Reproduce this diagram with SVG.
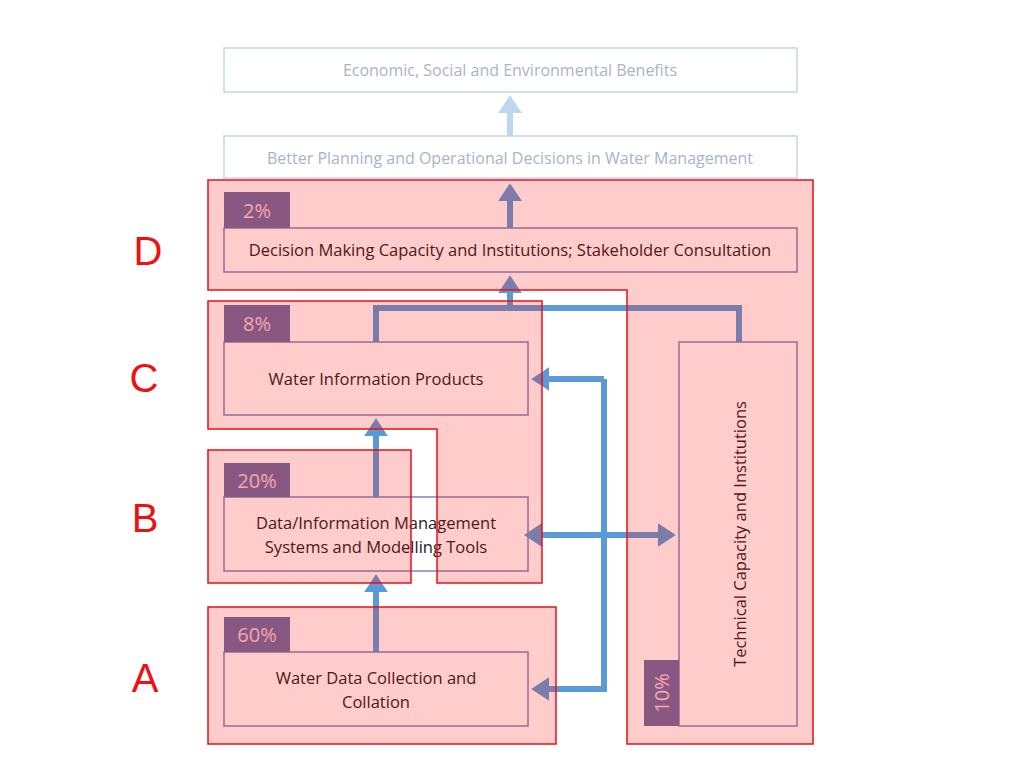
<svg xmlns="http://www.w3.org/2000/svg" width="1024" height="768" viewBox="0 0 1024 768">
<defs>
<marker id="ah" markerWidth="4" markerHeight="4" refX="2.2" refY="2" orient="auto" markerUnits="strokeWidth"><path d="M0,0 L3,2 L0,4 Z" fill="#5b9bd5"/></marker>
<marker id="ahs" markerWidth="4" markerHeight="4" refX="1" refY="2" orient="auto-start-reverse" markerUnits="strokeWidth"><path d="M0,0 L3,2 L0,4 Z" fill="#5b9bd5"/></marker>
<marker id="ahl" markerWidth="4" markerHeight="4" refX="2.2" refY="2" orient="auto" markerUnits="strokeWidth"><path d="M0,0 L3,2 L0,4 Z" fill="#bdd7ee"/></marker>
</defs>
<style>
.box{fill:#fff;stroke:#7f86b8;stroke-width:1.5}
.faint{fill:#fff;stroke:#bdd7ee;stroke-width:1.5}
.badge{fill:#6c6fa3}
.bt{font-family:"Open Sans","Liberation Sans",sans-serif;font-size:20px;fill:#f4d0d8;text-anchor:middle}
.t{font-family:"Open Sans","Liberation Sans",sans-serif;font-size:16.5px;fill:#222;text-anchor:middle}
.ft{font-family:"Open Sans","Liberation Sans",sans-serif;font-size:16px;fill:#a8b4c8;text-anchor:middle}
.ln{stroke:#5b9bd5;stroke-width:6;fill:none}
.ov{fill:#ff0000;fill-opacity:0.2;stroke:#e8101a;stroke-width:1.5}
.lt{font-family:"Liberation Sans",sans-serif;font-size:40px;fill:#ee1111;text-anchor:middle}
</style>
<g id="n-benefits"><rect class="faint" x="224" y="48" width="573" height="44"/><text class="ft" x="510" y="76">Economic, Social and Environmental Benefits</text></g>
<g id="n-better"><rect class="faint" x="224" y="136" width="573" height="42"/><text class="ft" x="510" y="164">Better Planning and Operational Decisions in Water Management</text></g>
<g id="n-decision"><rect class="box" x="224" y="228" width="573" height="44"/><rect class="badge" x="224" y="192" width="66" height="36"/><text class="bt" x="257" y="218">2%</text><text class="t" x="510" y="256">Decision Making Capacity and Institutions; Stakeholder Consultation</text></g>
<g id="n-products"><rect class="box" x="224" y="342" width="304" height="73"/><rect class="badge" x="224" y="305" width="66" height="37"/><text class="bt" x="257" y="331">8%</text><text class="t" x="376" y="385">Water Information Products</text></g>
<g id="n-systems"><rect class="box" x="224" y="497" width="304" height="74"/><rect class="badge" x="224" y="463" width="66" height="34"/><text class="bt" x="257" y="488">20%</text><text class="t" x="376" y="529">Data/Information Management</text><text class="t" x="376" y="553">Systems and Modelling Tools</text></g>
<g id="n-collection"><rect class="box" x="224" y="652" width="304" height="74"/><rect class="badge" x="224" y="617" width="66" height="35"/><text class="bt" x="257" y="642">60%</text><text class="t" x="376" y="684">Water Data Collection and</text><text class="t" x="376" y="708">Collation</text></g>
<g id="n-technical"><rect class="box" x="679" y="342" width="118" height="384"/><rect class="badge" x="644" y="660" width="35" height="66"/><text class="bt" transform="translate(669,693) rotate(-90)">10%</text><text class="t" transform="translate(746,534) rotate(-90)">Technical Capacity and Institutions</text></g>
<g id="connectors">
<line x1="510" y1="136" x2="510" y2="100" stroke="#bdd7ee" stroke-width="6" marker-end="url(#ahl)"/>
<line class="ln" x1="510" y1="228" x2="510" y2="188" marker-end="url(#ah)"/>
<line class="ln" x1="510" y1="308" x2="510" y2="280" marker-end="url(#ah)"/>
<polyline class="ln" points="376,342 376,308 739,308 739,342"/>
<line class="ln" x1="376" y1="497" x2="376" y2="423" marker-end="url(#ah)"/>
<line class="ln" x1="376" y1="652" x2="376" y2="579" marker-end="url(#ah)"/>
<polyline class="ln" points="604,379 604,689 536,689" marker-end="url(#ah)"/>
<polyline class="ln" points="604,379 536,379" marker-end="url(#ah)"/>
<line class="ln" x1="536" y1="535" x2="671" y2="535" marker-start="url(#ahs)" marker-end="url(#ah)"/>
</g>
<g id="overlays">
<path class="ov" d="M208,180 H813 V744 H627 V290 H208 Z"/>
<path class="ov" d="M208,301 H542 V583 H437 V429 H208 Z"/>
<rect class="ov" x="208" y="450" width="203" height="133"/>
<rect class="ov" x="208" y="607" width="348" height="137"/>
</g>
<g id="letters"><text class="lt" x="148" y="265">D</text><text class="lt" x="144" y="392">C</text><text class="lt" x="145" y="532">B</text><text class="lt" x="145" y="692">A</text></g>
</svg>
